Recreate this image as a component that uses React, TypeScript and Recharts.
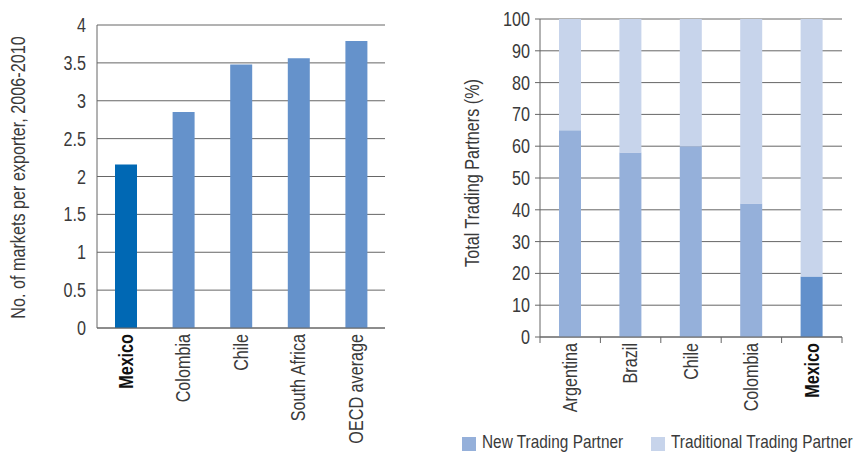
import { Bar, BarChart, CartesianGrid, Cell, Label, XAxis, YAxis } from 'recharts'

const marketCountries = ['Mexico', 'Colombia', 'Chile', 'South Africa', 'OECD average']
const marketsPerExporter = [2.16, 2.85, 3.48, 3.56, 3.79]
const marketTicks = [0, 0.5, 1, 1.5, 2, 2.5, 3, 3.5, 4]

const partnerCountries = ['Argentina', 'Brazil', 'Chile', 'Colombia', 'Mexico']
const newPartners = [65, 58, 60, 42, 19]
const traditionalPartners = [35, 42, 40, 58, 81]
const partnerTicks = [0, 10, 20, 30, 40, 50, 60, 70, 80, 90, 100]

const highlight = 'Mexico'
const font = "'Liberation Sans', Arial, sans-serif"
// the source uses a condensed face; squeeze Liberation Sans along the text direction
const squeeze = 0.83
const textColor = '#3a3a3a'
const lineColor = '#666666'
const colors = {
  marketBar: '#6592cb',
  marketHighlight: '#0068b4',
  newPartner: '#95b0da',
  newHighlight: '#6290cb',
  traditional: '#c7d4eb',
}

const marketData = marketCountries.map((name, i) => ({ name, value: marketsPerExporter[i] }))
const partnerData = partnerCountries.map((name, i) => ({
  name,
  newPartner: newPartners[i],
  traditional: traditionalPartners[i],
}))

const RotatedTick = (props: any) => {
  const { x, y, payload } = props
  const bold = payload.value === highlight
  return (
    <text
      transform={`translate(${x},${y}) rotate(-90) scale(${squeeze},1)`}
      textAnchor='end'
      dy='0.35em'
      fontSize={19.5}
      fontFamily={font}
      fontWeight={bold ? 700 : 400}
      fill={bold ? '#111' : textColor}
    >
      {payload.value}
    </text>
  )
}

const ValueTick = (props: any) => {
  const { x, y, payload } = props
  return (
    <text
      transform={`translate(${x},${y}) scale(${squeeze},1)`}
      textAnchor='end'
      dy='0.36em'
      fontSize={19.5}
      fontFamily={font}
      fill={textColor}
    >
      {payload.value}
    </text>
  )
}

// category ticks sit on band edges, labels on band centres
const BoundaryTick = (props: any) => {
  const { x, y, payload, index } = props
  const half = payload.offset || 30.2
  const last = index === partnerCountries.length - 1
  return (
    <g>
      <line x1={x - half} x2={x - half} y1={y} y2={y + 6} stroke={lineColor} />
      {last && <line x1={x + half} x2={x + half} y1={y} y2={y + 6} stroke={lineColor} />}
      <RotatedTick x={x} y={y + 6} payload={payload} />
    </g>
  )
}

const axisTitle = (text: string, dx: number, dy: number) => (props: any) => {
  const { x, y, height } = props.viewBox
  return (
    <text
      transform={`translate(${x + dx},${y + height / 2 + dy}) rotate(-90) scale(${squeeze},1)`}
      textAnchor='middle'
      dy='0.35em'
      fontSize={19.5}
      fontFamily={font}
      fill={textColor}
    >
      {text}
    </text>
  )
}

const legendText = {
  position: 'absolute' as const,
  top: 432,
  fontSize: 19,
  lineHeight: '20px',
  color: textColor,
  whiteSpace: 'nowrap' as const,
  transform: 'scaleX(0.81)',
  transformOrigin: 'left top',
}

export default function App() {
  return (
    <div style={{ position: 'absolute', left: 0, top: 0, width: 861, height: 452, fontFamily: font, overflow: 'hidden' }}>
      <div style={{ position: 'absolute', left: 0, top: 0 }}>
        <BarChart width={400} height={452} data={marketData} margin={{ top: 25, right: 15, bottom: 14, left: 0 }}>
          <CartesianGrid vertical={false} stroke={lineColor} />
          <XAxis
            dataKey='name'
            height={110}
            interval={0}
            tickLine={false}
            tickSize={0}
            tickMargin={6}
            axisLine={{ stroke: lineColor }}
            tick={<RotatedTick />}
          />
          <YAxis
            width={97}
            domain={[0, 4]}
            ticks={marketTicks}
            interval={0}
            tickLine={false}
            tickMargin={5}
            axisLine={{ stroke: lineColor }}
            tick={<ValueTick />}
          >
            <Label content={axisTitle('No. of markets per exporter, 2006-2010', 18, 1)} />
          </YAxis>
          <YAxis yAxisId='edge' orientation='right' width={0} domain={[0, 4]} tick={false} tickLine={false} axisLine={{ stroke: lineColor }} />
          <Bar dataKey='value' barSize={22} isAnimationActive={false}>
            {marketData.map((d) => (
              <Cell key={d.name} fill={d.name === highlight ? colors.marketHighlight : colors.marketBar} />
            ))}
          </Bar>
        </BarChart>
      </div>

      <div style={{ position: 'absolute', left: 430, top: 0 }}>
        <BarChart width={431} height={452} data={partnerData} margin={{ top: 19, right: 19, bottom: 15, left: 0 }}>
          <CartesianGrid vertical={false} stroke={lineColor} />
          <XAxis
            dataKey='name'
            height={100}
            interval={0}
            tickLine={false}
            tickSize={0}
            tickMargin={0}
            axisLine={{ stroke: lineColor }}
            tick={<BoundaryTick />}
          />
          <YAxis
            width={110}
            domain={[0, 100]}
            ticks={partnerTicks}
            interval={0}
            tickSize={5}
            tickMargin={5}
            tickLine={{ stroke: lineColor }}
            axisLine={{ stroke: lineColor }}
            tick={<ValueTick />}
          >
            <Label content={axisTitle('Total Trading Partners (%)', 42, -5)} />
          </YAxis>
          <YAxis yAxisId='edge' orientation='right' width={0} domain={[0, 100]} tick={false} tickLine={false} axisLine={{ stroke: lineColor }} />
          <Bar dataKey='newPartner' stackId='a' barSize={22} isAnimationActive={false}>
            {partnerData.map((d) => (
              <Cell key={d.name} fill={d.name === highlight ? colors.newHighlight : colors.newPartner} />
            ))}
          </Bar>
          <Bar dataKey='traditional' stackId='a' barSize={22} fill={colors.traditional} isAnimationActive={false} />
        </BarChart>
      </div>

      <div style={{ position: 'absolute', left: 462, top: 437, width: 14, height: 14, background: colors.newPartner }} />
      <div style={{ ...legendText, left: 482 }}>New Trading Partner</div>
      <div style={{ position: 'absolute', left: 651, top: 437, width: 14, height: 14, background: colors.traditional }} />
      <div style={{ ...legendText, left: 671 }}>Traditional Trading Partner</div>
    </div>
  )
}
